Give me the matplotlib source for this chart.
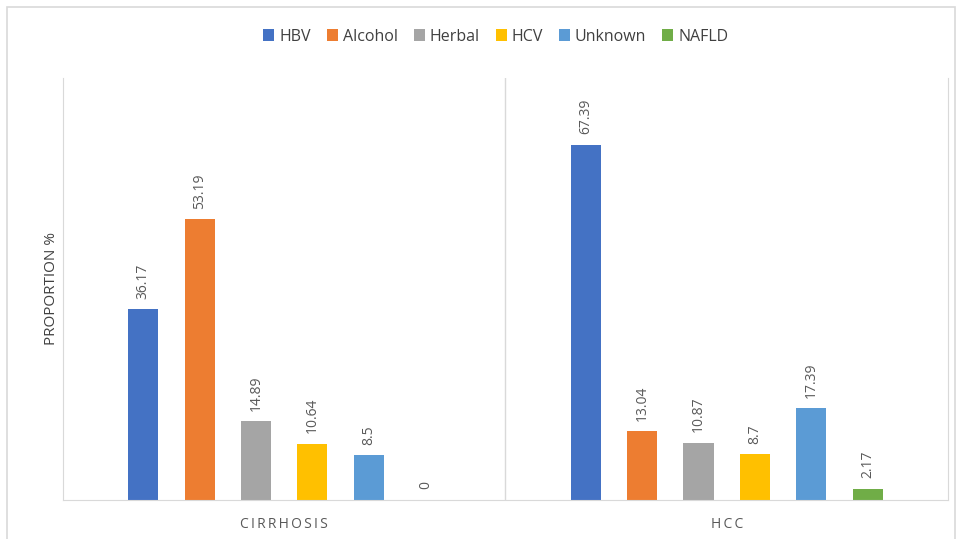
import matplotlib.pyplot as plt
from matplotlib.patches import Rectangle
import numpy as np

plt.rcParams['font.family'] = ['Open Sans', 'DejaVu Sans']

categories = ['CIRRHOSIS', 'HCC']
series = ['HBV', 'Alcohol', 'Herbal', 'HCV', 'Unknown', 'NAFLD']
values = {
    'HBV': [36.17, 67.39],
    'Alcohol': [53.19, 13.04],
    'Herbal': [14.89, 10.87],
    'HCV': [10.64, 8.7],
    'Unknown': [8.5, 17.39],
    'NAFLD': [0, 2.17],
}
colors = ['#4472C4', '#ED7D31', '#A5A5A5', '#FFC000', '#5B9BD5', '#70AD47']

fig = plt.figure(figsize=(9.72, 5.39), dpi=100)
ax = fig.add_axes([0.0648, 0.0724, 0.9105, 0.7829])

# outer chart frame
fig.patches.append(Rectangle((7/972, -0.01), 948/972, 1 - 7/539 + 0.01, transform=fig.transFigure,
                             fill=False, ec='#d9d9d9', lw=1.2))

x = np.arange(len(categories))
step = 0.1275
width = 0.068
for i, s in enumerate(series):
    pos = x + (i - 2.5) * step
    bars = ax.bar(pos, values[s], width, color=colors[i], label=s)
    for xp, v in zip(pos, values[s]):
        lbl = ('%g' % v)
        ax.text(xp, v + 2.0, lbl, rotation=90, ha='center', va='bottom',
                fontsize=10, color='#595959')

ax.set_xlim(-0.5, 1.5)
ax.set_ylim(0, 80)
ax.set_yticks([])
ax.set_xticks(x)
ax.set_xticklabels(['\u2009'.join(c) for c in categories], fontsize=10, color='#595959')
ax.tick_params(axis='x', length=0, pad=12)
ax.spines['top'].set_visible(False)
for sp in ['left', 'right', 'bottom']:
    ax.spines[sp].set_color('#d9d9d9')
ax.axvline(0.5, color='#d9d9d9', lw=1)
ax.set_ylabel('PROPORTION %', fontsize=11, color='#404040', labelpad=3)

fig.legend(loc='center', bbox_to_anchor=(0.51, 0.932), ncol=6, frameon=False,
           fontsize=11.5, handlelength=0.7, handleheight=0.7, handletextpad=0.3,
           columnspacing=1.0, labelcolor='#404040')

fig.savefig('out.png', dpi=100)
